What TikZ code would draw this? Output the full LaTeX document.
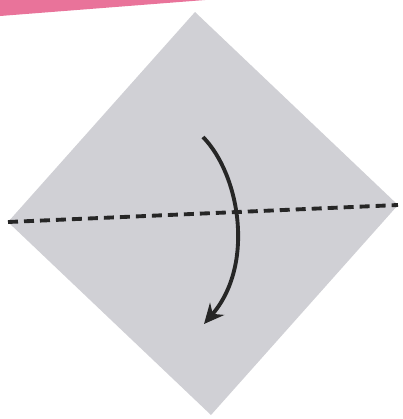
\documentclass[tikz,border=0pt]{standalone}
\usetikzlibrary{arrows.meta}
\definecolor{paper}{HTML}{D0D0D5}
\definecolor{band}{HTML}{E9739A}
\definecolor{ink}{HTML}{262626}
\tikzset{
  foldline/.style={ink, line width=2.9pt, dash pattern=on 7.5pt off 4.5pt},
  foldarrow/.style={ink, line width=2.9pt, -{Stealth[length=15pt,width=14pt,inset=5pt]}},
}
\begin{document}
\begin{tikzpicture}[x=0.75pt,y=-0.75pt]
\useasboundingbox (0,0) rectangle (403,419);
\fill[white] (0,0) rectangle (403,419);
% pink band
\fill[band] (0,0) -- (205,0) -- (0,16) -- cycle;
% paper square
\coordinate (T) at (195,12);
\coordinate (L) at (8,222);
\coordinate (R) at (398,205);
\coordinate (B) at (211,415);
\fill[paper] (T) -- (R) -- (B) -- (L) -- cycle;
% fold line
\draw[foldline] (L) -- (R);
% arrow
\coordinate (A1) at (203,137);
\coordinate (A2) at (204,324);
\draw[foldarrow] (A1) .. controls (240,175) and (255,265) .. (A2);
\end{tikzpicture}
\end{document}
